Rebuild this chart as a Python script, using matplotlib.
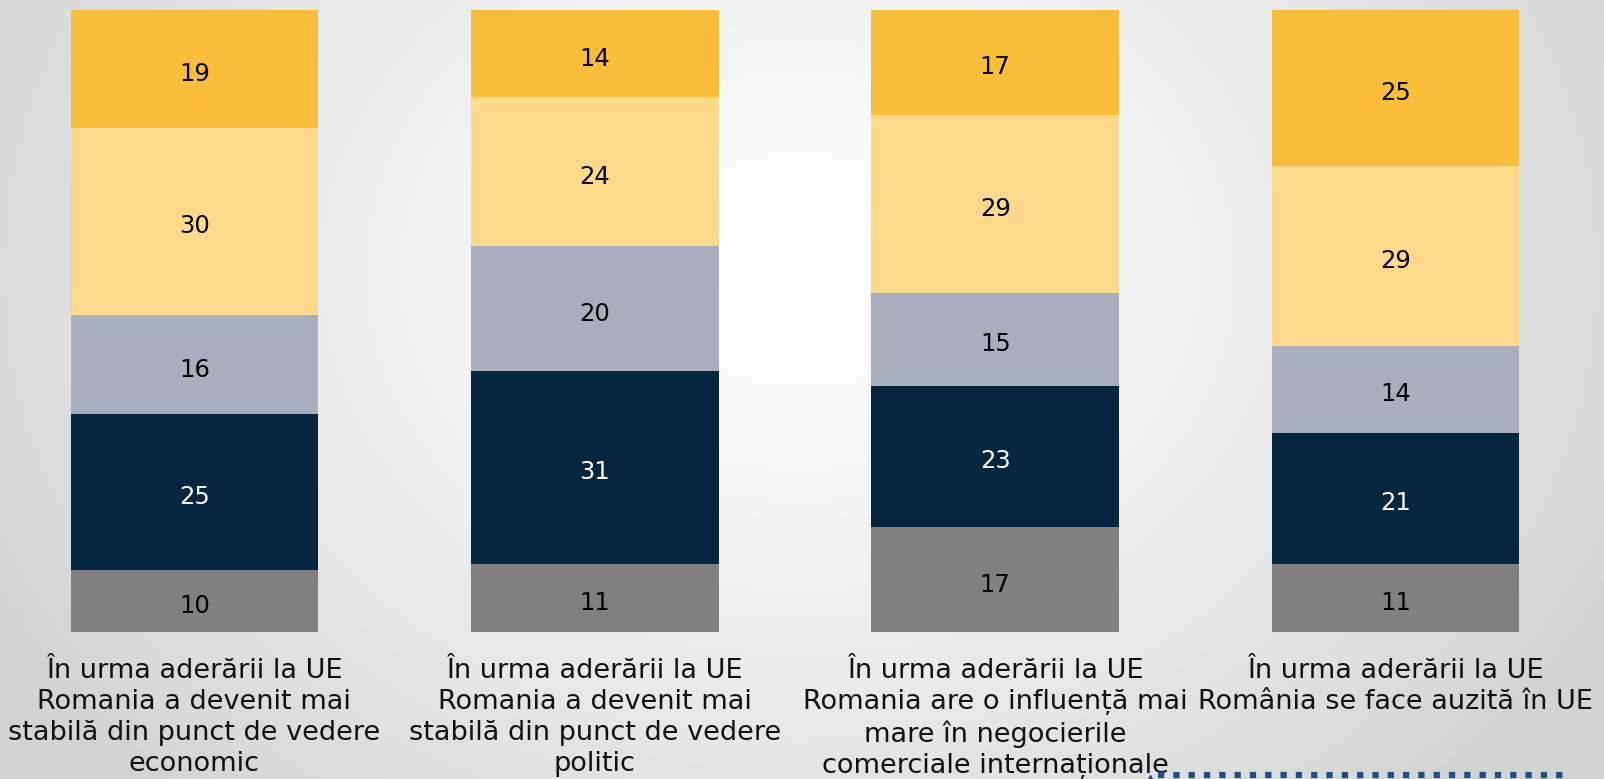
"""100% stacked bars: perceptions of Romania after EU accession."""

import matplotlib
matplotlib.use('Agg')
import matplotlib.pyplot as plt
import numpy as np

plt.rcParams['font.family'] = ['DejaVu Sans']

# data (bottom -> top segments), one value per statement
categories = [
    'În urma aderării la UE\nRomania a devenit mai\nstabilă din punct de vedere\neconomic',
    'În urma aderării la UE\nRomania a devenit mai\nstabilă din punct de vedere\npolitic',
    'În urma aderării la UE\nRomania are o influență mai\nmare în negocierile\ncomerciale internaționale',
    'În urma aderării la UE\nRomânia se face auzită în UE',
]
ns_nr = [10, 11, 17, 11]
total_dezacord = [25, 31, 23, 21]
partial_dezacord = [16, 20, 15, 14]
partial_acord = [30, 24, 29, 29]
total_acord = [19, 14, 17, 25]

series = [ns_nr, total_dezacord, partial_dezacord, partial_acord, total_acord]
colors = ['#808080', '#06253F', '#A8AFBB', '#FCD98B', '#F9BF3B']
text_colors = ['black', 'white', 'black', 'black', 'black']

W, H = 1604, 779
fig = plt.figure(figsize=(W / 100, H / 100), dpi=100)

# radial grey-white background
bg = fig.add_axes([0, 0, 1, 1], zorder=0)
yy, xx = np.mgrid[0:H, 0:W]
d = np.sqrt(((xx - 800) / 900.0) ** 2 + ((yy - 270) / 720.0) ** 2)
shade = 1 - 0.17 * np.clip(d, 0, 1) ** 1.3
bg.imshow(shade, cmap='gray', vmin=0, vmax=1, aspect='auto',
          extent=(0, W, H, 0), interpolation='bilinear')
bg.set_xlim(0, W)
bg.set_ylim(H, 0)
bg.axis('off')

# bars axes: bar centres at ~194, 595, 995, 1396 px; bars y 10..632 px
step = 400.4
x0 = 194.4
ax = fig.add_axes([0, (H - 632) / H, 1, 622 / H], zorder=1)
ax.set_facecolor('none')
ax.set_xlim(-x0 / step, (W - x0) / step)
ax.set_ylim(0, 1)

data = np.array(series, dtype=float)
shares = data / data.sum(axis=0)
x = np.arange(len(categories))
bottom = np.zeros(len(categories))
for vals, share, col, tc in zip(data, shares, colors, text_colors):
    ax.bar(x, share, bottom=bottom, width=247.5 / step, color=col,
           edgecolor='none')
    for xi, b, s, v in zip(x, bottom, share, vals):
        ax.text(xi, b + s / 2 - 0.008, f'{int(v)}', ha='center', va='center',
                fontsize=17.5, color=tc)
    bottom += share

ax.set_xticks(x)
ax.set_xticklabels(categories, fontsize=19.5, color='#111111',
                   linespacing=1.25)
ax.tick_params(axis='x', length=0, pad=19)
ax.set_yticks([])
for sp in ax.spines.values():
    sp.set_visible(False)

# dotted decoration line at the bottom right
deco = fig.add_axes([0, 0, 1, 1], zorder=2)
deco.set_xlim(0, W)
deco.set_ylim(H, 0)
deco.axis('off')
deco.plot([1158, 1565], [775, 775], color='#1F4E89', linewidth=4.5,
          linestyle=(0, (1, 1.45)), solid_capstyle='butt')
deco.plot([1150], [778], marker='^', color='#1F4E89', markersize=5)

fig.savefig('out.png', dpi=100)
